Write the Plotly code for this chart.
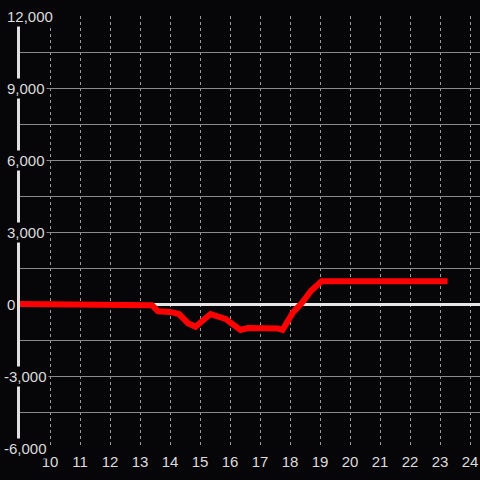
import plotly.graph_objects as go

BG = '#060609'
TXT = '#dcdcdc'
GRID = '#8a8a8a'

hours = [9, 13.2, 13.4, 13.6, 14.0, 14.3, 14.6, 14.85, 15.35, 15.85, 16.35, 16.6,
         17.0, 17.6, 17.75, 18.1, 18.4, 18.7, 19.05, 23.25]
values = [0, 0, -50, -300, -330, -420, -800, -950, -420, -620, -1080, -1000,
          -1000, -1020, -1080, -350, 50, 550, 950, 950]

y_labels = [12000, 9000, 6000, 3000, 0, -3000, -6000]
x_ticks = list(range(10, 25))

W, H = 480, 480
L, T, B = 20, 16, 32
PW = W - L

fig = go.Figure(go.Scatter(
    x=hours, y=values, mode='lines',
    line=dict(color='#ff0000', width=6),
    hoverinfo='skip', showlegend=False,
))

for v in y_labels:
    left_px = 5 if v >= 0 else 2
    fig.add_annotation(
        x=(left_px - L) / PW, xref='paper', y=v, yref='y',
        text=f'{v:,}', showarrow=False, xanchor='left',
        font=dict(color=TXT, size=15, family='Liberation Sans, Arial, sans-serif'),
        bgcolor=BG, borderpad=1,
    )

fig.update_layout(
    width=W, height=H,
    paper_bgcolor=BG, plot_bgcolor=BG,
    margin=dict(l=L, r=0, t=T, b=B),
    font=dict(color=TXT, size=15, family='Liberation Sans, Arial, sans-serif'),
    xaxis=dict(range=[9, 24.333], tickvals=x_ticks,
               showgrid=True, gridcolor='#9a9a9a', gridwidth=1, griddash='3px,3px',
               zeroline=False, showline=False, ticks='', ticklabelstandoff=3,
               tickfont=dict(color=TXT, size=15)),
    yaxis=dict(range=[-6000, 12000], dtick=1500, tick0=0,
               showgrid=True, gridcolor=GRID, gridwidth=1,
               zeroline=True, zerolinecolor='#e6e6e6', zerolinewidth=3,
               showline=True, linecolor='#e0e0e0', linewidth=3,
               showticklabels=False, ticks=''),
)

# drop the default 8px page margin so the figure fills the window
fig.write_html('out.html', config={'displayModeBar': False},
               post_script="document.body.style.margin='0px';")
